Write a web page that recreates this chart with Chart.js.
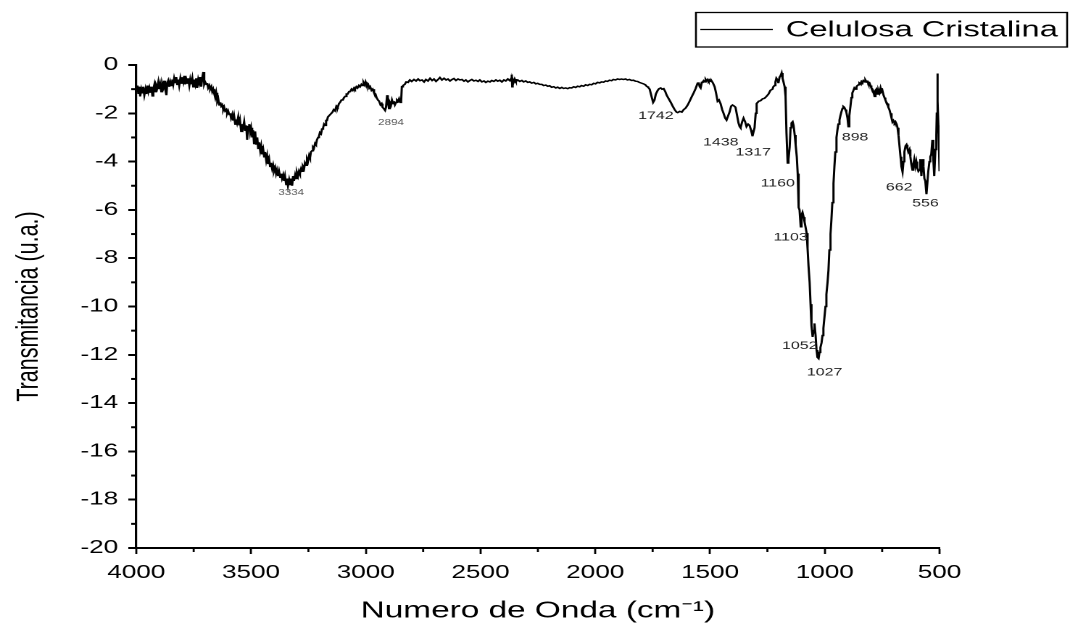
<!DOCTYPE html>
<html>
<head>
<meta charset="utf-8">
<title>Celulosa Cristalina - FTIR</title>
<script src="https://cdn.jsdelivr.net/npm/chart.js@4.4.1/dist/chart.umd.min.js"></script>
<style>
  html, body { margin: 0; padding: 0; background: #fff; overflow: hidden; }
  #wrap { width: 1070px; height: 627px; overflow: hidden; }
  /* the original figure is stretched sideways, so the chart is drawn narrow and widened */
  #ftir { transform: scaleX(1.44986); transform-origin: 0 0; }
</style>
</head>
<body>
<div id="wrap"><canvas id="ftir" width="738" height="627"></canvas></div>
<script>
/* ===== DATA ===== */
const SERIES_NAME = "Celulosa Cristalina";

// [wavenumber cm-1, transmitancia]
const spectrum = [
  // O-H band region
  [4000, -1.05], [3995, -0.85], [3991, -1.2], [3987, -0.9], [3983, -1.3], [3978, -1.0], [3974, -1.15], [3970, -0.9],
  [3965, -1.25], [3960, -1.0], [3956, -1.2], [3951, -0.85], [3947, -1.1], [3943, -0.95], [3939, -1.15], [3934, -0.9],
  [3930, -1.28], [3926, -1.0], [3921, -0.8], [3917, -1.1], [3913, -0.85], [3909, -0.95], [3904, -0.7], [3900, -1.0],
  [3896, -0.8], [3891, -1.1], [3887, -0.75], [3882, -0.9], [3878, -0.65], [3874, -1.0], [3869, -1.25], [3865, -0.75],
  [3861, -0.65], [3856, -0.9], [3852, -0.7], [3848, -0.85], [3843, -0.6], [3839, -0.8], [3835, -0.55], [3830, -0.75],
  [3826, -0.5], [3822, -0.8], [3817, -0.6], [3813, -0.85], [3808, -0.55], [3804, -0.75], [3800, -0.5], [3795, -0.7],
  [3791, -0.45], [3787, -0.8], [3782, -0.6], [3778, -0.75], [3774, -0.55], [3769, -0.85], [3765, -0.6], [3761, -0.8],
  [3756, -0.55], [3752, -0.9], [3748, -0.6], [3743, -0.8], [3739, -0.55], [3735, -0.95], [3730, -0.6], [3726, -0.75],
  [3722, -0.5], [3717, -0.9], [3713, -0.55], [3708, -0.29], [3704, -0.8], [3700, -0.7], [3695, -0.8], [3691, -0.75],
  [3687, -0.95], [3682, -0.85], [3678, -1.0], [3673, -0.9], [3669, -1.1], [3665, -1.0], [3660, -1.2], [3656, -1.35],
  [3652, -1.15], [3647, -1.5], [3643, -1.4], [3639, -1.65], [3634, -1.55], [3630, -1.7], [3626, -1.65], [3621, -1.85],
  [3617, -1.75], [3613, -1.9], [3608, -1.85], [3604, -2.0], [3600, -1.9], [3595, -2.05], [3591, -2.0], [3587, -2.2],
  [3582, -2.05], [3578, -2.3], [3574, -2.1], [3569, -2.45], [3565, -2.25], [3561, -2.4], [3556, -2.15], [3552, -2.5],
  [3548, -2.3], [3543, -2.75], [3539, -2.45], [3535, -2.6], [3530, -2.35], [3526, -2.7], [3521, -2.5], [3517, -3.1],
  [3513, -2.55], [3508, -2.45], [3504, -2.8], [3500, -2.6], [3495, -3.0], [3491, -2.7], [3487, -3.25], [3482, -2.75],
  [3478, -3.3], [3473, -3.0], [3469, -3.45], [3465, -3.2], [3460, -3.55], [3456, -3.35], [3452, -3.7], [3447, -3.5],
  [3443, -3.8], [3439, -3.6], [3434, -3.95], [3430, -3.75], [3426, -4.1], [3421, -3.9], [3417, -4.2], [3413, -4.05],
  [3408, -4.3], [3404, -4.15], [3400, -4.4], [3395, -4.25], [3391, -4.5], [3387, -4.35], [3382, -4.6], [3378, -4.4],
  [3373, -4.65], [3369, -4.5], [3365, -4.7], [3360, -4.55], [3356, -4.8], [3352, -4.6], [3347, -4.95], [3343, -4.7],
  [3339, -5.0], [3334, -4.75], [3330, -4.95], [3326, -4.7], [3321, -5.0], [3317, -4.6], [3313, -4.8], [3308, -4.55],
  [3304, -4.7], [3300, -4.45], [3295, -4.6], [3291, -4.4], [3287, -4.5], [3282, -4.3], [3278, -4.4], [3274, -4.2],
  [3269, -4.3], [3265, -4.05], [3260, -4.15], [3256, -3.9], [3252, -4.0], [3247, -3.75], [3243, -3.85], [3239, -3.6],
  [3234, -3.55], [3230, -3.4], [3226, -3.45], [3221, -3.25], [3217, -3.3], [3213, -3.1], [3208, -3.0], [3204, -2.95],
  [3200, -2.8], [3195, -2.85], [3191, -2.65], [3186, -2.6], [3182, -2.45], [3178, -2.5], [3173, -2.3], [3169, -2.3],
  [3165, -2.15], [3160, -2.15], [3155, -2.05], [3150, -2.0], [3145, -1.95], [3140, -1.85], [3134, -1.9], [3128, -1.7],
  [3122, -1.75], [3117, -1.6], [3112, -1.55], [3106, -1.45], [3100, -1.45], [3095, -1.35], [3090, -1.3], [3084, -1.2],
  [3079, -1.2], [3073, -1.1], [3068, -1.1], [3062, -1.0], [3057, -1.05], [3051, -0.95], [3047, -1.0], [3041, -0.9],
  [3036, -0.95], [3030, -0.85], [3025, -0.9], [3019, -0.8], [3014, -0.85], [3010, -0.72], [3005, -0.82], [3001, -0.7],
  // C-H band
  [2996, -0.85], [2990, -0.8], [2985, -0.95], [2981, -0.9], [2975, -1.05], [2970, -1.0], [2964, -1.15], [2958, -1.2],
  [2953, -1.35], [2947, -1.45], [2942, -1.5], [2936, -1.65], [2931, -1.6], [2927, -1.75], [2922, -1.8], [2916, -1.88],
  [2912, -1.75], [2907, -1.25], [2904, -1.5], [2899, -1.8], [2895, -1.55], [2890, -1.65], [2886, -1.45], [2881, -1.6],
  [2877, -1.5], [2873, -1.65], [2868, -1.55], [2864, -1.45], [2859, -1.5], [2855, -1.4], [2850, -1.55], [2846, -1.5],
  [2843, -0.9], [2838, -0.85], [2830, -0.8], [2824, -0.7], [2816, -0.72],
  // flat stretch
  [2808, -0.62], [2800, -0.68], [2790, -0.6], [2781, -0.66], [2772, -0.58], [2764, -0.65], [2755, -0.62], [2746, -0.7],
  [2738, -0.6], [2729, -0.66], [2720, -0.55], [2711, -0.64], [2703, -0.58], [2694, -0.68], [2685, -0.6], [2677, -0.52],
  [2668, -0.62], [2659, -0.55], [2650, -0.62], [2642, -0.58], [2633, -0.66], [2624, -0.6], [2616, -0.56], [2607, -0.64],
  [2598, -0.58], [2590, -0.62], [2581, -0.6], [2572, -0.67], [2564, -0.62], [2555, -0.7], [2546, -0.64], [2538, -0.6],
  [2529, -0.66], [2520, -0.63], [2511, -0.68], [2503, -0.62], [2494, -0.7], [2485, -0.66], [2477, -0.72], [2468, -0.67],
  [2459, -0.7], [2451, -0.64], [2442, -0.68], [2433, -0.62], [2425, -0.67], [2416, -0.63], [2407, -0.7], [2398, -0.62],
  [2390, -0.66], [2381, -0.58], [2372, -0.65], [2366, -0.55], [2364, -0.4], [2362, -0.9], [2360, -0.6], [2356, -0.72],
  [2351, -0.58], [2346, -0.68], [2338, -0.62], [2329, -0.68], [2320, -0.64], [2312, -0.7], [2303, -0.66], [2294, -0.72],
  [2286, -0.7], [2277, -0.75], [2268, -0.72], [2259, -0.78], [2251, -0.76], [2242, -0.8], [2233, -0.8], [2225, -0.85],
  [2216, -0.83], [2207, -0.88], [2199, -0.86], [2190, -0.92], [2181, -0.9], [2172, -0.95], [2164, -0.92], [2155, -0.97],
  [2146, -0.93], [2138, -0.97], [2129, -0.95], [2120, -0.98], [2112, -0.94], [2103, -0.95], [2094, -0.9], [2086, -0.93],
  [2077, -0.88], [2068, -0.9], [2060, -0.85], [2051, -0.88], [2042, -0.82], [2033, -0.85], [2025, -0.8], [2016, -0.82],
  [2007, -0.76], [1999, -0.78], [1990, -0.72], [1981, -0.74], [1973, -0.7], [1964, -0.71], [1955, -0.66], [1947, -0.68],
  [1938, -0.63], [1929, -0.65], [1921, -0.6], [1912, -0.62], [1903, -0.58], [1894, -0.6], [1886, -0.58], [1877, -0.6],
  [1868, -0.58], [1860, -0.62], [1851, -0.6], [1842, -0.64], [1834, -0.63], [1825, -0.67], [1816, -0.68], [1808, -0.72],
  [1799, -0.75], [1790, -0.78], [1782, -0.82], [1776, -0.88], [1770, -0.92], [1763, -1.0],
  // fingerprint region
  [1755, -1.3], [1748, -1.55], [1742, -1.45], [1736, -1.2], [1728, -1.05], [1722, -0.98], [1715, -0.95], [1709, -1.0],
  [1702, -0.98], [1695, -1.1], [1689, -1.25], [1680, -1.4], [1671, -1.55], [1663, -1.7], [1654, -1.85], [1646, -1.95],
  [1641, -1.97], [1632, -1.92], [1623, -1.95], [1615, -1.85], [1606, -1.78], [1597, -1.65], [1589, -1.5], [1580, -1.32],
  [1571, -1.15], [1563, -0.98], [1558, -0.85], [1554, -0.75], [1550, -0.72], [1545, -0.9], [1541, -0.95], [1536, -0.72],
  [1532, -0.7], [1528, -0.65], [1523, -0.7], [1519, -0.6], [1515, -0.66], [1510, -0.6], [1506, -0.67], [1502, -0.62],
  [1497, -0.68], [1493, -0.66], [1487, -0.75], [1480, -0.9], [1474, -1.15], [1467, -1.5], [1461, -1.45], [1454, -1.6],
  [1447, -1.85], [1441, -2.0], [1434, -2.2], [1428, -2.28], [1421, -2.1], [1415, -1.95], [1408, -1.7], [1402, -1.66],
  [1395, -1.7], [1389, -1.75], [1382, -2.1], [1376, -2.4], [1371, -2.55], [1367, -2.6], [1360, -2.35], [1354, -2.2],
  [1347, -2.35], [1341, -2.55], [1334, -2.45], [1328, -2.5], [1321, -2.7], [1315, -2.95], [1310, -2.75], [1306, -2.6],
  [1301, -2.0], [1297, -1.6], [1288, -1.5], [1280, -1.48], [1271, -1.4], [1263, -1.38], [1254, -1.3], [1245, -1.2],
  [1237, -1.05], [1228, -1.0], [1224, -0.9], [1219, -0.85], [1215, -0.7], [1211, -0.55], [1206, -0.62], [1202, -0.75],
  [1197, -0.5], [1193, -0.45], [1188, -0.33], [1184, -0.55], [1180, -0.7], [1175, -0.9], [1171, -1.3], [1167, -2.8],
  [1162, -4.06], [1158, -3.9], [1153, -3.4], [1149, -2.6], [1145, -2.4], [1140, -2.35], [1136, -2.5], [1131, -2.9],
  [1127, -3.3], [1122, -3.8], [1118, -4.5], [1114, -5.9], [1110, -6.0], [1105, -6.7], [1101, -6.2], [1097, -6.1],
  [1092, -6.3], [1088, -6.5], [1084, -6.7], [1079, -6.96], [1075, -7.6], [1071, -8.3], [1066, -9.0], [1062, -9.9],
  [1058, -10.8], [1053, -11.26], [1049, -11.0], [1045, -10.7], [1040, -11.2], [1036, -11.8], [1032, -12.1], [1027, -12.15],
  [1023, -11.9], [1019, -11.7], [1014, -11.5], [1010, -11.2], [1006, -10.9], [1001, -10.4], [997, -10.0], [993, -9.5],
  [988, -9.0], [984, -8.5], [980, -7.66], [975, -7.0], [971, -6.4], [967, -5.7], [962, -4.9], [958, -4.2],
  [954, -3.6], [949, -3.0], [945, -2.7], [941, -2.45], [936, -2.28], [932, -2.1], [928, -1.95], [923, -1.8],
  [919, -1.72], [915, -1.75], [910, -1.85], [906, -1.95], [901, -2.2], [897, -2.55], [893, -2.1], [888, -1.7],
  [884, -1.35], [880, -1.16], [875, -1.05], [871, -0.95], [866, -1.0], [862, -0.9], [858, -0.85], [853, -0.82],
  [849, -0.75], [845, -0.78], [840, -0.68], [836, -0.72], [832, -0.65], [827, -0.7], [823, -0.62], [818, -0.7],
  [814, -0.68], [810, -0.78], [805, -0.75], [801, -0.85], [797, -0.95], [792, -1.0], [788, -1.1], [783, -1.3],
  [779, -1.05], [775, -1.0], [770, -1.2], [766, -1.05], [762, -1.15], [757, -0.95], [753, -1.1], [749, -1.05],
  [744, -1.25], [740, -1.35], [736, -1.45], [731, -1.55], [727, -1.6], [723, -1.75], [718, -1.86], [714, -2.0],
  [709, -2.2], [705, -2.36], [701, -2.3], [696, -2.4], [692, -2.35], [687, -2.45], [683, -2.6], [679, -2.9],
  [674, -3.4], [670, -3.8], [666, -4.2], [661, -4.43], [657, -4.0], [653, -3.6], [648, -3.35], [644, -3.3],
  [640, -3.45], [636, -3.6], [631, -3.5], [627, -3.8], [623, -4.1], [618, -4.35], [614, -4.1], [610, -3.9],
  [605, -4.2], [601, -4.0], [597, -4.25], [592, -4.4], [588, -4.35], [584, -3.9], [579, -4.6], [574, -3.9],
  [570, -4.2], [566, -4.7], [562, -4.8], [557, -5.35], [553, -4.9], [549, -4.4], [544, -4.0], [540, -3.8],
  [536, -3.7], [531, -3.1], [527, -3.9], [523, -4.6], [518, -3.5], [514, -2.9], [512, -2.0], [510, -0.35],
  [507, -1.5], [505, -2.5], [502, -3.6], [500, -4.4]
];

/* peak labels and where their text sits, in axis units */
const peakLabels = ["3334", "2894", "1742", "1438", "1317", "1160", "1103", "1052", "1027", "898", "662", "556"];
const peakLabelX = [3325, 2890, 1736, 1453, 1312, 1205, 1149, 1109, 1001, 868, 676, 561];
const peakLabelY = [-5.3, -2.4, -2.11, -3.21, -3.62, -4.91, -7.14, -11.64, -12.73, -3.0, -5.07, -5.73];

const X_MIN = 500, X_MAX = 4000, X_STEP = 500;
const Y_MIN = -20, Y_MAX = 0, Y_STEP = 2;

/* ===== STYLE ===== */
const FONT = '"Liberation Sans", Arial, sans-serif';
Chart.defaults.font.family = FONT;
Chart.defaults.color = "#000";

/* ===== PLUGINS ===== */
// short minor ticks between the labelled ones
const minorTicks = {
  id: "minorTicks",
  afterDraw(chart) {
    const { ctx, scales: { x, y }, chartArea } = chart;
    ctx.save();
    ctx.strokeStyle = "#000";
    ctx.lineWidth = 1.4;
    for (let v = X_MIN + X_STEP / 2; v < X_MAX; v += X_STEP) {
      const px = x.getPixelForValue(v);
      ctx.beginPath();
      ctx.moveTo(px, chartArea.bottom);
      ctx.lineTo(px, chartArea.bottom + 4);
      ctx.stroke();
    }
    ctx.lineWidth = 2;
    for (let v = Y_MIN + Y_STEP / 2; v < Y_MAX; v += Y_STEP) {
      const py = y.getPixelForValue(v);
      ctx.beginPath();
      ctx.moveTo(chartArea.left, py);
      ctx.lineTo(chartArea.left - 3.5, py);
      ctx.stroke();
    }
    ctx.restore();
  },
};

// peak numbers next to the bands
const peakText = {
  id: "peakText",
  afterDatasetsDraw(chart) {
    const { ctx, scales: { x, y } } = chart;
    ctx.save();
    ctx.textAlign = "center";
    ctx.textBaseline = "middle";
    peakLabels.forEach((t, i) => {
      const faint = peakLabelX[i] > 2500;
      ctx.font = (faint ? "8px " : "11px ") + FONT;
      ctx.fillStyle = faint ? "#555" : "#222";
      ctx.fillText(t, x.getPixelForValue(peakLabelX[i]), y.getPixelForValue(peakLabelY[i]));
    });
    ctx.restore();
  },
};

// boxed legend in the top right corner
const boxLegend = {
  id: "boxLegend",
  afterDraw(chart) {
    const { ctx } = chart;
    const ds = chart.data.datasets[0];
    ctx.save();
    ctx.strokeStyle = "#000";
    ctx.lineWidth = 1.3;
    ctx.strokeRect(480, 12.5, 256, 34.5);
    ctx.strokeStyle = ds.borderColor;
    ctx.lineWidth = 1.2;
    ctx.beginPath();
    ctx.moveTo(483, 29.5);
    ctx.lineTo(533, 29.5);
    ctx.stroke();
    ctx.fillStyle = "#000";
    ctx.font = "22.5px " + FONT;
    ctx.textBaseline = "middle";
    ctx.fillText(ds.label, 542, 30.5);
    ctx.restore();
  },
};

/* ===== CHART ===== */
const chart = new Chart(document.getElementById("ftir"), {
  type: "line",
  data: {
    datasets: [
      {
        label: SERIES_NAME,
        data: spectrum.map((p) => ({ x: p[0], y: p[1] })),
        borderColor: "#000",
        borderWidth: 1.5,
        pointRadius: 0,
        tension: 0,
        fill: false,
      },
    ],
  },
  options: {
    responsive: false,
    animation: false,
    devicePixelRatio: 2,
    layout: { padding: { left: 0, right: 90, top: 65, bottom: 0 } },
    plugins: { legend: { display: false }, tooltip: { enabled: false } },
    scales: {
      x: {
        type: "linear",
        reverse: true,
        min: X_MIN,
        max: X_MAX,
        border: { display: true, color: "#000", width: 2 },
        grid: { drawOnChartArea: false, drawTicks: true, tickLength: 6, tickColor: "#000", tickWidth: 1.4 },
        ticks: {
          stepSize: X_STEP,
          autoSkip: false,
          maxRotation: 0,
          padding: 8,
          font: { size: 18 },
          callback: (v) => String(v),
        },
        title: {
          display: true,
          text: "Numero de Onda (cm\u207B\u00B9)",
          font: { size: 23 },
          padding: { top: 0, bottom: 2 },
        },
        afterFit(s) { s.height = 79; },
      },
      y: {
        min: Y_MIN,
        max: Y_MAX,
        border: { display: true, color: "#000", width: 1.6 },
        grid: { drawOnChartArea: false, drawTicks: true, tickLength: 5.5, tickColor: "#000", tickWidth: 2 },
        ticks: { stepSize: Y_STEP, padding: 7, font: { size: 18 } },
        title: {
          display: true,
          text: "Transmitancia (u.a.)",
          font: { size: 21.5 },
          padding: { top: 7, bottom: 0 },
        },
        afterFit(s) { s.width = 94; },
      },
    },
  },
  plugins: [minorTicks, peakText, boxLegend],
});
</script>
</body>
</html>
